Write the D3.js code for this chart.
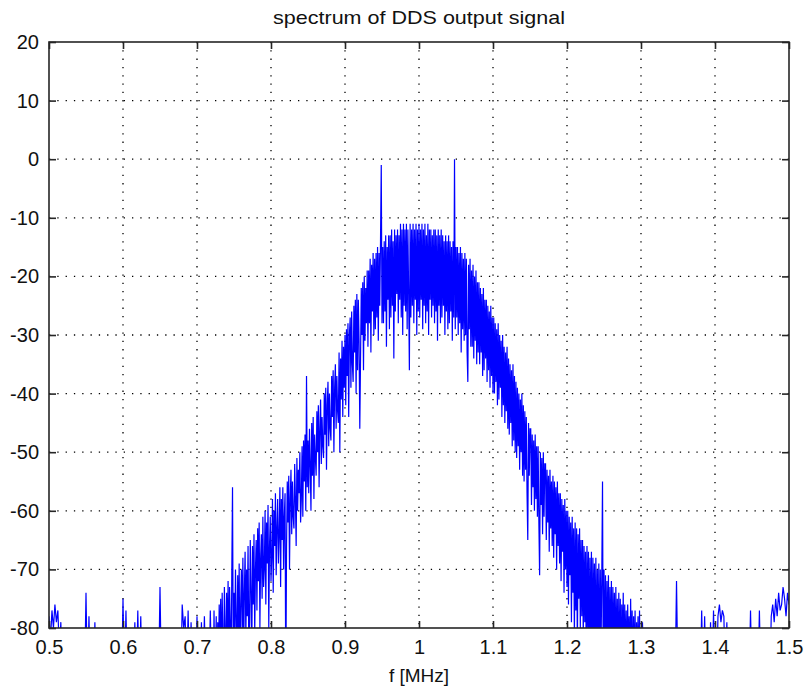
<!DOCTYPE html>
<html><head><meta charset="utf-8">
<script src="https://cdn.jsdelivr.net/npm/d3@7"></script>
<style>body{margin:0;background:#fff}svg{display:block}</style>
</head><body>
<svg id="chart" width="809" height="693"></svg>
<script>
// ---- data (spectrum level in dB) ----
const chartTitle = "spectrum of DDS output signal";
const xLabel = "f [MHz]";
const xTicks = [0.5, 0.6, 0.7, 0.8, 0.9, 1.0, 1.1, 1.2, 1.3, 1.4, 1.5];
const yTicks = [-80, -70, -60, -50, -40, -30, -20, -10, 0, 10, 20];

// 0.500 .. 0.720 MHz, every 0.002 MHz
const noiseLeftStart = 0.500, noiseLeftStep = 0.002;
const noiseLeft = [
  -78, -82, -77, -80, -76, -79, -77, -84, -79, -90,
  -90, -90, -90, -90, -90, -90, -90, -90, -90, -90,
  -90, -90, -90, -90, -90, -74, -90, -78, -90, -90,
  -90, -79, -90, -90, -90, -80, -90, -90, -90, -90,
  -90, -90, -90, -90, -90, -90, -90, -90, -90, -90,
  -75, -90, -77, -90, -90, -90, -90, -90, -79, -90,
  -77, -90, -78, -90, -90, -90, -90, -90, -90, -90,
  -90, -90, -90, -90, -90, -73, -90, -90, -90, -90,
  -90, -90, -90, -90, -90, -90, -90, -90, -90, -90,
  -76, -80, -78, -90, -77, -90, -79, -90, -90, -90,
  -78, -90, -90, -79, -90, -78, -90, -80, -90, -77,
  -90
];
// 0.721 .. 0.940 MHz, every 0.001 MHz
const risingStart = 0.721, risingStep = 0.001;
const risingEdge = [
  -80, -90, -77, -88, -84, -78, -92, -79, -86, -76,
  -85, -75, -90, -74, -82, -88, -73, -80, -90, -74,
  -84, -72, -88, -73, -79, -90, -71, -56, -86, -74,
  -83, -70, -78, -88, -71, -82, -69, -90, -76, -70,
  -80, -68, -85, -74, -67, -82, -70, -78, -66, -84,
  -79, -65, -74, -86, -66, -76, -64, -81, -70, -65,
  -77, -63, -72, -62, -80, -68, -64, -75, -61, -73,
  -70, -60, -76, -62, -69, -59, -80, -66, -61, -72,
  -68, -58, -74, -60, -66, -57, -71, -63, -58, -69,
  -64, -56, -73, -58, -65, -56, -70, -61, -57, -92,
  -66, -55, -62, -54, -70, -58, -53, -64, -55, -61,
  -63, -52, -58, -66, -51, -60, -53, -57, -50, -62,
  -58, -49, -61, -48, -55, -47, -60, -37, -56, -48,
  -57, -46, -52, -60, -45, -54, -44, -58, -47, -51,
  -54, -43, -50, -42, -56, -46, -41, -52, -44, -49,
  -51, -40, -47, -39, -53, -42, -38, -49, -40, -46,
  -48, -37, -44, -36, -50, -39, -35, -46, -37, -43,
  -45, -33, -50, -34, -41, -31, -44, -32, -39, -30,
  -42, -29, -37, -28, -44, -30, -27, -39, -26, -35,
  -38, -25, -33, -24, -40, -23, -36, -24, -31, -46,
  -34, -22, -30, -21, -36, -20, -31, -22, -28, -19,
  -32, -19, -28, -17, -33, -18, -26, -16, -30, -17
];
// 0.941 .. 1.060 MHz, every 0.001 MHz
const centerStart = 0.941, centerStep = 0.001;
const centerBand = [
  -29, -16, -27, -15, -31, -16, -25, -14, -1, -28,
  -15, -28, -14, -26, -13, -32, -15, -24, -13, -29,
  -13, -27, -12, -25, -14, -34, -12, -26, -13, -23,
  -12, -28, -13, -24, -11, -27, -12, -30, -11, -25,
  -12, -26, -11, -29, -12, -23, -36, -11, -27, -12,
  -25, -11, -28, -12, -24, -11, -30, -12, -26, -11,
  -27, -12, -24, -11, -29, -12, -25, -11, -28, -13,
  -26, -11, -30, -12, -24, -12, -27, -13, -25, -12,
  -28, -12, -26, -13, -31, -12, -25, -13, -28, -12,
  -27, -13, -25, -14, -30, -13, -26, -14, -29, -13,
  -28, -14, -26, -15, -31, -14, -27, 0, -29, -15,
  -27, -15, -30, -16, -28, -15, -33, -16, -29, -17
];
// 1.061 .. 1.300 MHz, every 0.001 MHz
const fallingStart = 1.061, fallingStep = 0.001;
const fallingEdge = [
  -31, -16, -30, -17, -33, -38, -18, -29, -17, -32,
  -19, -32, -18, -34, -20, -31, -19, -35, -21, -33,
  -21, -35, -22, -33, -23, -37, -22, -36, -24, -34,
  -24, -38, -25, -36, -26, -39, -25, -37, -27, -40,
  -27, -40, -28, -38, -29, -42, -28, -41, -30, -39,
  -31, -44, -30, -42, -32, -45, -33, -43, -32, -46,
  -34, -47, -35, -45, -36, -49, -35, -48, -37, -50,
  -38, -51, -39, -49, -40, -53, -41, -50, -40, -54,
  -42, -55, -43, -53, -44, -57, -65, -45, -54, -46,
  -46, -59, -47, -56, -48, -60, -47, -58, -49, -61,
  -49, -62, -71, -50, -59, -51, -64, -50, -61, -52,
  -52, -65, -53, -62, -54, -67, -53, -63, -55, -66,
  -54, -68, -55, -64, -56, -70, -55, -66, -57, -69,
  -57, -72, -58, -67, -59, -74, -58, -70, -60, -73,
  -60, -76, -61, -71, -62, -79, -61, -74, -63, -82,
  -62, -77, -63, -84, -64, -75, -63, -80, -65, -78,
  -65, -82, -66, -79, -67, -86, -66, -80, -67, -88,
  -68, -84, -67, -90, -68, -81, -69, -87, -68, -90,
  -70, -86, -69, -90, -70, -84, -71, -55, -90, -70,
  -88, -71, -90, -72, -85, -71, -90, -73, -87, -72,
  -90, -73, -86, -74, -90, -73, -88, -75, -90, -74,
  -89, -75, -90, -76, -86, -74, -90, -76, -88, -77,
  -90, -76, -85, -78, -90, -75, -87, -77, -90, -78,
  -88, -77, -90, -79, -86, -78, -90, -77, -89, -90
];
// 1.302 .. 1.500 MHz, every 0.002 MHz
const noiseRightStart = 1.302, noiseRightStep = 0.002;
const noiseRight = [
  -79, -90, -90, -90, -90, -90, -90, -90, -90, -90,
  -90, -90, -90, -90, -90, -90, -90, -90, -90, -90,
  -90, -90, -90, -72, -90, -90, -90, -90, -90, -90,
  -90, -90, -90, -90, -90, -90, -90, -90, -90, -90,
  -77, -90, -78, -90, -90, -90, -79, -90, -77, -90,
  -90, -78, -76, -79, -77, -78, -90, -79, -90, -90,
  -90, -90, -90, -90, -90, -90, -90, -90, -90, -90,
  -90, -90, -90, -77, -90, -90, -90, -90, -90, -77,
  -90, -90, -90, -90, -90, -90, -90, -78, -76, -79,
  -75, -78, -74, -77, -76, -73, -75, -78, -74, -76
];

const segments = [
  [noiseLeftStart, noiseLeftStep, noiseLeft],
  [risingStart, risingStep, risingEdge],
  [centerStart, centerStep, centerBand],
  [fallingStart, fallingStep, fallingEdge],
  [noiseRightStart, noiseRightStep, noiseRight]
];
const spectrum = segments.flatMap(([f0, df, vals]) => vals.map((v, i) => ({ f: f0 + i * df, db: v })));

// ---- layout ----
const W = 809, H = 693;
const plot = { left: 49, top: 42, right: 789, bottom: 628 };
const FONT = "'Liberation Sans', Arial, Helvetica, sans-serif";
const ink = "#262626";

const svg = d3.select("#chart");
const x = d3.scaleLinear().domain([0.5, 1.5]).range([plot.left, plot.right]);
const y = d3.scaleLinear().domain([-80, 20]).range([plot.bottom, plot.top]);

svg.append("rect").attr("width", W).attr("height", H).attr("fill", "#fff");

// grid
const grid = svg.append("g").attr("stroke", "#000").attr("stroke-width", 1.3)
  .attr("stroke-dasharray", "1.3 7");
grid.selectAll("line.v").data(xTicks.slice(1, -1)).join("line")
  .attr("x1", d => x(d)).attr("x2", d => x(d))
  .attr("y1", plot.top).attr("y2", plot.bottom);
grid.selectAll("line.h").data(yTicks.slice(1, -1)).join("line")
  .attr("y1", d => y(d)).attr("y2", d => y(d))
  .attr("x1", plot.left).attr("x2", plot.right);

// data line
svg.append("clipPath").attr("id", "clip").append("rect")
  .attr("x", plot.left).attr("y", plot.top)
  .attr("width", plot.right - plot.left).attr("height", plot.bottom - plot.top);

svg.append("path").datum(spectrum)
  .attr("clip-path", "url(#clip)")
  .attr("fill", "none").attr("stroke", "#0000ff").attr("stroke-width", 1.2)
  .attr("stroke-linejoin", "miter")
  .attr("d", d3.line().x(d => x(d.f)).y(d => y(d.db)));

// axes (ticks pointing inwards)
const fmt = d => String(+d.toFixed(1));
function styleAxis(g) {
  g.select(".domain").remove();
  g.selectAll(".tick line").attr("stroke", ink).attr("stroke-width", 1.6);
  g.selectAll(".tick text").attr("fill", "#111").attr("font-family", FONT).attr("font-size", 20);
}
svg.append("g").attr("transform", `translate(0,${plot.bottom})`)
  .call(d3.axisBottom(x).tickValues(xTicks).tickSize(-7).tickPadding(12).tickFormat(fmt))
  .call(styleAxis);
svg.append("g").attr("transform", `translate(0,${plot.top})`)
  .call(d3.axisTop(x).tickValues(xTicks).tickSize(-7).tickFormat(""))
  .call(styleAxis);
svg.append("g").attr("transform", `translate(${plot.left},0)`)
  .call(d3.axisLeft(y).tickValues(yTicks).tickSize(-7).tickPadding(10).tickFormat(fmt))
  .call(styleAxis);
svg.append("g").attr("transform", `translate(${plot.right},0)`)
  .call(d3.axisRight(y).tickValues(yTicks).tickSize(-7).tickFormat(""))
  .call(styleAxis);

// box
svg.append("rect").attr("x", plot.left).attr("y", plot.top)
  .attr("width", plot.right - plot.left).attr("height", plot.bottom - plot.top)
  .attr("fill", "none").attr("stroke", ink).attr("stroke-width", 1.6);

// title and label
svg.append("text").attr("x", (plot.left + plot.right) / 2).attr("y", 24)
  .attr("text-anchor", "middle").attr("font-family", FONT).attr("font-size", 19)
  .attr("textLength", 292).attr("lengthAdjust", "spacingAndGlyphs")
  .attr("fill", "#111").text(chartTitle);
svg.append("text").attr("x", (plot.left + plot.right) / 2).attr("y", 682)
  .attr("text-anchor", "middle").attr("font-family", FONT).attr("font-size", 19)
  .attr("fill", "#111").text(xLabel);
</script>
</body></html>
